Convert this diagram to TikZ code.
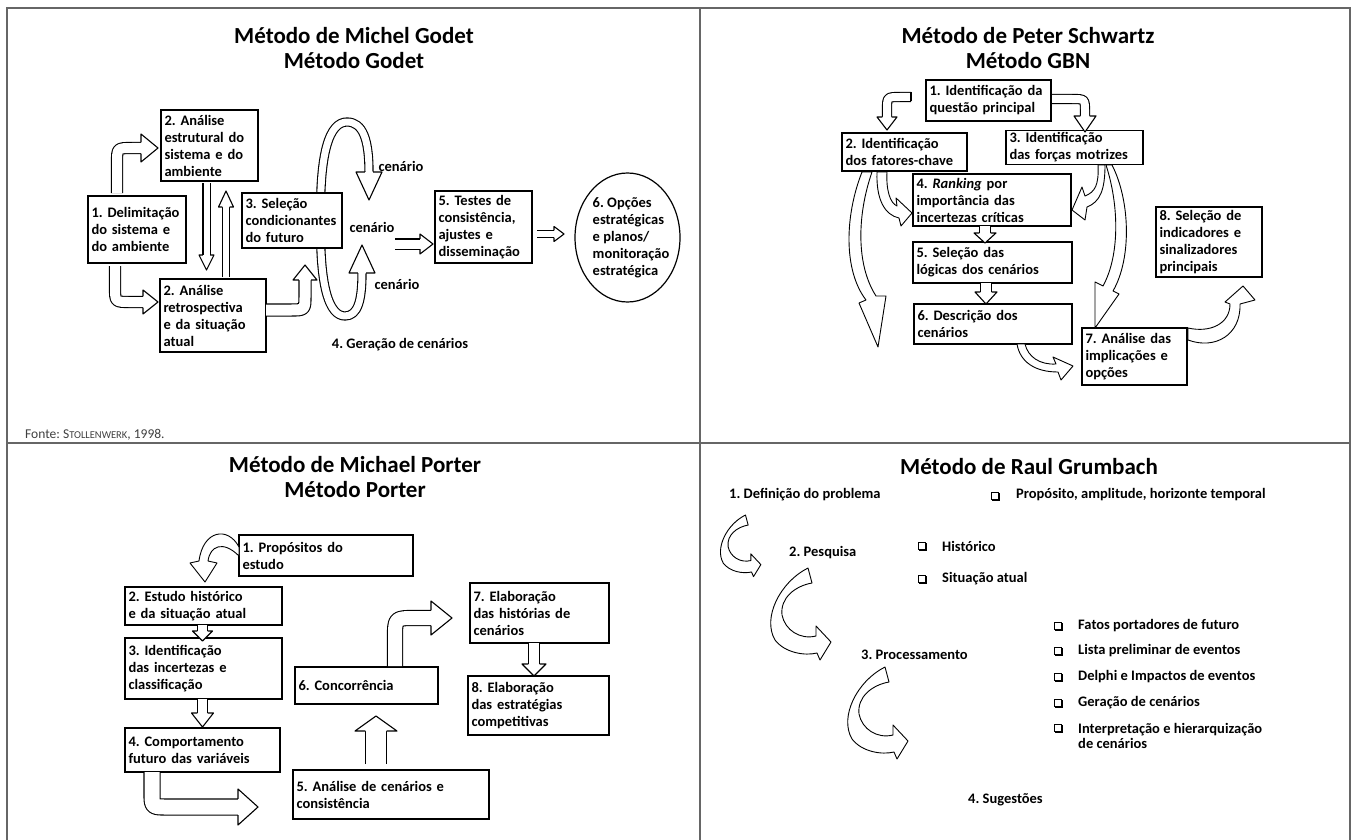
\documentclass[tikz,border=0pt]{standalone}
\usepackage{fontspec}
\setmainfont{Carlito}
\usetikzlibrary{calc,shapes.geometric}
\frenchspacing
\newcommand{\ahead}[4]{%
 \fill[white] ($(#1)!#3!90:(#2)$) -- (#2) -- ($(#1)!#3!-90:(#2)$) -- cycle;
 \draw[ar] ($(#1)!#4!90:(#2)$) -- ($(#1)!#3!90:(#2)$) -- (#2) -- ($(#1)!#3!-90:(#2)$) -- ($(#1)!#4!-90:(#2)$);}
\begin{document}
\frenchspacing
\begin{tikzpicture}[x=1pt,y=-1pt,
 bx/.style={draw, line width=1.2pt, fill=white, align=left, inner xsep=3.5pt, inner ysep=2pt, font=\bfseries\fontsize{14.5}{17}\selectfont},
 tt/.style={font=\bfseries\fontsize{23}{25}\selectfont, align=center, inner sep=0pt},
 lb/.style={font=\bfseries\fontsize{14.5}{17}\selectfont, inner sep=0pt, align=left},
 ar/.style={line width=1.1pt, line join=round},
 sh/.style={line width=1.1pt, double=white, double distance=#1, line join=round},
 cr/.style={fill=white, draw, line width=0.9pt, line join=round},
 fr/.style={draw=black!60, line width=1.6pt},
 pics/cres/.style={code={
   \filldraw[cr] (38,0) .. controls (10,14) and (-8,50) .. (5,72) .. controls (15,85) and (35,88) .. (47,85)
     -- (50,92) -- (61,74) -- (46,58) -- (46,68) .. controls (30,72) and (15,62) .. (12,47)
     .. controls (10,30) and (25,18) .. (42,15) -- cycle;}},
 pics/chk/.style={code={
   \draw[line width=0.7pt] (-3.5,-3.5) rectangle (3.5,3.5);
   \draw[line width=1.5pt] (-2.8,4.3) -- (4.3,4.3) -- (4.3,-2.8);}}]
\useasboundingbox (0,0) rectangle (1354,840);
\fill[white] (0,0) rectangle (1354,840);
% frame
\draw[fr] (7,840) -- (7,8) -- (1350,8) -- (1350,840);
\draw[fr] (700,8) -- (700,840);
\draw[fr] (7,443) -- (1350,443);

% ================= GODET =================
\node[tt] (tg) at (354,48) {Método de Michel Godet\\Método Godet};
% ring
\draw[sh=7pt] (321,235) .. controls (318,150) and (330,122) .. (347,122) .. controls (363,122) and (369,140) .. (369,172);
\ahead{369,172}{369,200}{13pt}{4.05pt}
\draw[sh=7pt] (321,205) .. controls (318,290) and (330,316) .. (345,316) .. controls (358,316) and (362,300) .. (362,273);
\ahead{362,273}{362,245}{13pt}{4.05pt}
\node[bx, text width=90pt, minimum height=71pt] (g2a) at (209.5,145.5) {2. Análise\\estrutural do\\sistema e do\\ambiente};
\node[bx, text width=91pt, minimum height=67pt] (g1) at (137,229.5) {1. Delimitação\\do sistema e\\do ambiente};
\node[bx, text width=93pt, minimum height=55pt] (g3) at (292,220.5) {3. Seleção\\condicionantes\\do futuro};
\node[bx, text width=99pt, minimum height=73pt] (g2b) at (213,315.5) {2. Análise\\retrospectiva\\e da situação\\atual};
\node[bx, text width=90pt, minimum height=72pt] (g5) at (483.5,227) {5. Testes de\\consistência,\\ajustes e\\disseminação};
\node[draw, ellipse, line width=1.2pt, minimum width=105pt, minimum height=129pt, inner sep=0pt] (g6) at (627.5,237.5) {};
\node[lb] (g6t) at (631,238) {6. Opções\\estratégicas\\e planos/\\monitoração\\estratégica};
\node[lb] (c1) at (401,166) {cenário};
\node[lb] (c2) at (372,227) {cenário};
\node[lb] (c3) at (397,284) {cenário};
\node[lb] (g4) at (400,345) {4. Geração de cenários};
% arrows
\draw[sh=10pt] (117,193) -- (117,163) .. controls (117,148) .. (132,148) -- (141,148);
\ahead{141,148}{158,148}{14pt}{5.55pt}
\draw[sh=10pt] (115,266) -- (115,287) .. controls (115,302) .. (130,302) -- (143,302);
\ahead{143,302}{158,302}{12pt}{5.55pt}
\draw[sh=6pt] (206.5,183) -- (206.5,255);
\ahead{206.5,255}{206.5,270}{7.5pt}{3.55pt}
\draw[sh=6pt] (226,277) -- (226,207);
\ahead{226,207}{226,191}{7.5pt}{3.55pt}
\draw[sh=11pt] (266,310) -- (290,310) .. controls (305,310) .. (305,295) -- (305,280);
\ahead{305,280}{305,265}{12pt}{6.05pt}
\draw[sh=9pt] (395,244) -- (420,244);
\ahead{420,244}{433,244}{10pt}{5.05pt}
\draw[sh=6pt] (537,234) -- (554,234);
\ahead{554,234}{564,234}{7.5pt}{3.55pt}
\node[anchor=west, inner sep=0pt, text=black!75, font=\fontsize{13.5}{15}\selectfont] (fonte) at (25,435) {Fonte: S{\fontsize{10.5}{12}\selectfont TOLLENWERK}, 1998.};

% ================= SCHWARTZ =================
\node[tt] (ts) at (1028,48) {Método de Peter Schwartz\\Método GBN};
\node[bx, text width=118pt, minimum height=41pt] (s1) at (988.5,100.5) {1. Identificação da\\questão principal};
\node[bx, text width=118pt, minimum height=38pt] (s2) at (904.5,152) {2. Identificação\\dos fatores-chave};
\node[bx, text width=130pt, minimum height=33pt] (s3) at (1074.5,147.5) {3. Identificação\\das forças motrizes};
\node[bx, text width=151pt, minimum height=52pt] (s4) at (992,200) {4. \textit{Ranking} por\\importância das\\incertezas críticas};
\node[bx, text width=152pt, minimum height=41pt] (s5) at (992.5,262.5) {5. Seleção das\\lógicas dos cenários};
\node[bx, text width=151pt, minimum height=40pt] (s6) at (993,324) {6. Descrição dos\\cenários};
\node[bx, text width=98pt, minimum height=57pt] (s7) at (1134.5,356.5) {7. Análise das\\implicações e\\opções};
\node[bx, text width=99pt, minimum height=70pt] (s8) at (1209,242) {8. Seleção de\\indicadores e\\sinalizadores\\principais};
% arrows
\draw[sh=8pt] (911,97) -- (900,97) .. controls (887,97) .. (887,110) -- (887,117);
\draw[ar] (911,92.5) -- (911,101.5);
\ahead{887,117}{887,130}{10pt}{4.55pt}
\draw[sh=8pt] (1052,99) -- (1072,99) .. controls (1085,99) .. (1085,112) -- (1085,116);
\ahead{1085,116}{1085,132}{11pt}{4.55pt}
\filldraw[cr] (862,172) .. controls (845,215) and (843,270) .. (866,300) -- (859,303) -- (878,347) -- (886,296) -- (876,296) .. controls (856,265) and (857,215) .. (872,172) -- cycle;
\filldraw[cr] (877,172) .. controls (876,200) and (885,215) .. (899,218) -- (901,226) -- (912,213) -- (896,198) -- (897,206) .. controls (890,203) and (886,190) .. (887,172) -- cycle;
\filldraw[cr] (1098,165) .. controls (1099,185) and (1095,192) .. (1085,196) -- (1082,187) -- (1072,210) -- (1085,220) -- (1087,207) .. controls (1100,202) and (1105,190) .. (1105,165) -- cycle;
\filldraw[cr] (1112,165) .. controls (1130,200) and (1132,258) .. (1113,291) -- (1119,294) -- (1095,328) -- (1095,282) -- (1103,286) .. controls (1120,255) and (1119,205) .. (1106,165) -- cycle;
\filldraw[cr] (1017,344) .. controls (1020,362) and (1035,372) .. (1058,372) -- (1061,380) -- (1073,366) -- (1053,357) -- (1056,364) .. controls (1040,365) and (1028,357) .. (1025,344) -- cycle;
\filldraw[cr] (1188,340) .. controls (1215,350) and (1241,335) .. (1240,304) -- (1255,300) -- (1243,286) -- (1225,302) -- (1230,304) .. controls (1230,324) and (1210,333) .. (1188,328) -- cycle;
\draw[sh=10pt] (985,226) -- (985,233);
\ahead{985,233}{985,243}{11pt}{5.55pt}
\draw[sh=10pt] (986,283) -- (986,292);
\ahead{986,292}{986,304}{11pt}{5.55pt}

% ================= PORTER =================
\node[tt] (tp) at (355,477) {Método de Michael Porter\\Método Porter};
\node[bx, text width=167pt, minimum height=41pt] (p1) at (326,555.5) {1. Propósitos do\\estudo};
\node[bx, text width=150pt, minimum height=38pt] (p2) at (203.5,606) {2. Estudo histórico\\e da situação atual};
\node[bx, text width=150pt, minimum height=61pt] (p3) at (203.5,668.5) {3. Identificação\\das incertezas e\\classificação};
\node[bx, text width=148pt, minimum height=44pt] (p4) at (202.5,750) {4. Comportamento\\futuro das variáveis};
\node[bx, text width=189pt, minimum height=49pt] (p5) at (391,794.5) {5. Análise de cenários e\\consistência};
\node[bx, text width=136pt, minimum height=37pt] (p6) at (366.5,685.5) {6. Concorrência};
\node[bx, text width=132pt, minimum height=60pt] (p7) at (539.5,613) {7. Elaboração\\das histórias de\\cenários};
\node[bx, text width=134pt, minimum height=59pt] (p8) at (538.5,705.5) {8. Elaboração\\das estratégias\\competitivas};
\filldraw[cr] (239,547) .. controls (228,526) and (203,530) .. (199,561) -- (190,563) -- (205,582) -- (217,563) -- (208,561) .. controls (210,546) and (223,540) .. (239,556) -- cycle;
\draw[sh=9pt] (202.5,625) -- (202.5,631);
\ahead{202.5,631}{202.5,641}{10pt}{5.05pt}
\draw[sh=9pt] (202.5,699) -- (202.5,713);
\ahead{202.5,713}{202.5,727}{11pt}{5.05pt}
\draw[sh=15pt] (152,772) -- (152,792) .. controls (152,807) .. (167,807) -- (238,807);
\ahead{238,807}{258,807}{18pt}{8.05pt}
\draw[sh=20pt] (376,764) -- (376,731);
\ahead{376,731}{376,716}{21pt}{10.55pt}
\draw[sh=14pt] (395,666) -- (395,638) .. controls (395,618) .. (415,618) -- (431,618);
\ahead{431,618}{452,618}{17pt}{7.55pt}
\draw[sh=10pt] (534,643) -- (534,664);
\ahead{534,664}{534,676}{12pt}{5.55pt}

% ================= GRUMBACH =================
\node[tt] (tr) at (1029,467) {Método de Raul Grumbach};
\pic[scale=0.67] at (720,515) {cres};
\pic at (770,568) {cres};
\pic at (847,667) {cres};
\node[lb, anchor=west] (r1) at (729,495) {1. Definição do problema};
\pic at (995,496) {chk};
\node[lb, anchor=west] (r1a) at (1016,495) {Propósito, amplitude, horizonte temporal};
\node[lb, anchor=west] (r2) at (789,553) {2. Pesquisa};
\pic at (922,546) {chk};
\node[lb, anchor=west] (r2a) at (942,546) {Histórico};
\pic at (922,579) {chk};
\node[lb, anchor=west] (r2b) at (942,579) {Situação atual};
\node[lb, anchor=west] (r3) at (861,655) {3. Processamento};
\pic at (1058,626) {chk};
\node[lb, anchor=west] (r3a) at (1078,626) {Fatos portadores de futuro};
\pic at (1058,651) {chk};
\node[lb, anchor=west] (r3b) at (1078,651) {Lista preliminar de eventos};
\pic at (1058,677) {chk};
\node[lb, anchor=west] (r3c) at (1078,677) {Delphi e Impactos de eventos};
\pic at (1058,703) {chk};
\node[lb, anchor=west] (r3d) at (1078,703) {Geração de cenários};
\pic at (1058,728) {chk};
\node[lb, anchor=west, font=\bfseries\fontsize{14.5}{15}\selectfont] (r3e) at (1078,736) {Interpretação e hierarquização\\de cenários};
\node[lb, anchor=west] (r4) at (968,800) {4. Sugestões};
\end{tikzpicture}
\end{document}
